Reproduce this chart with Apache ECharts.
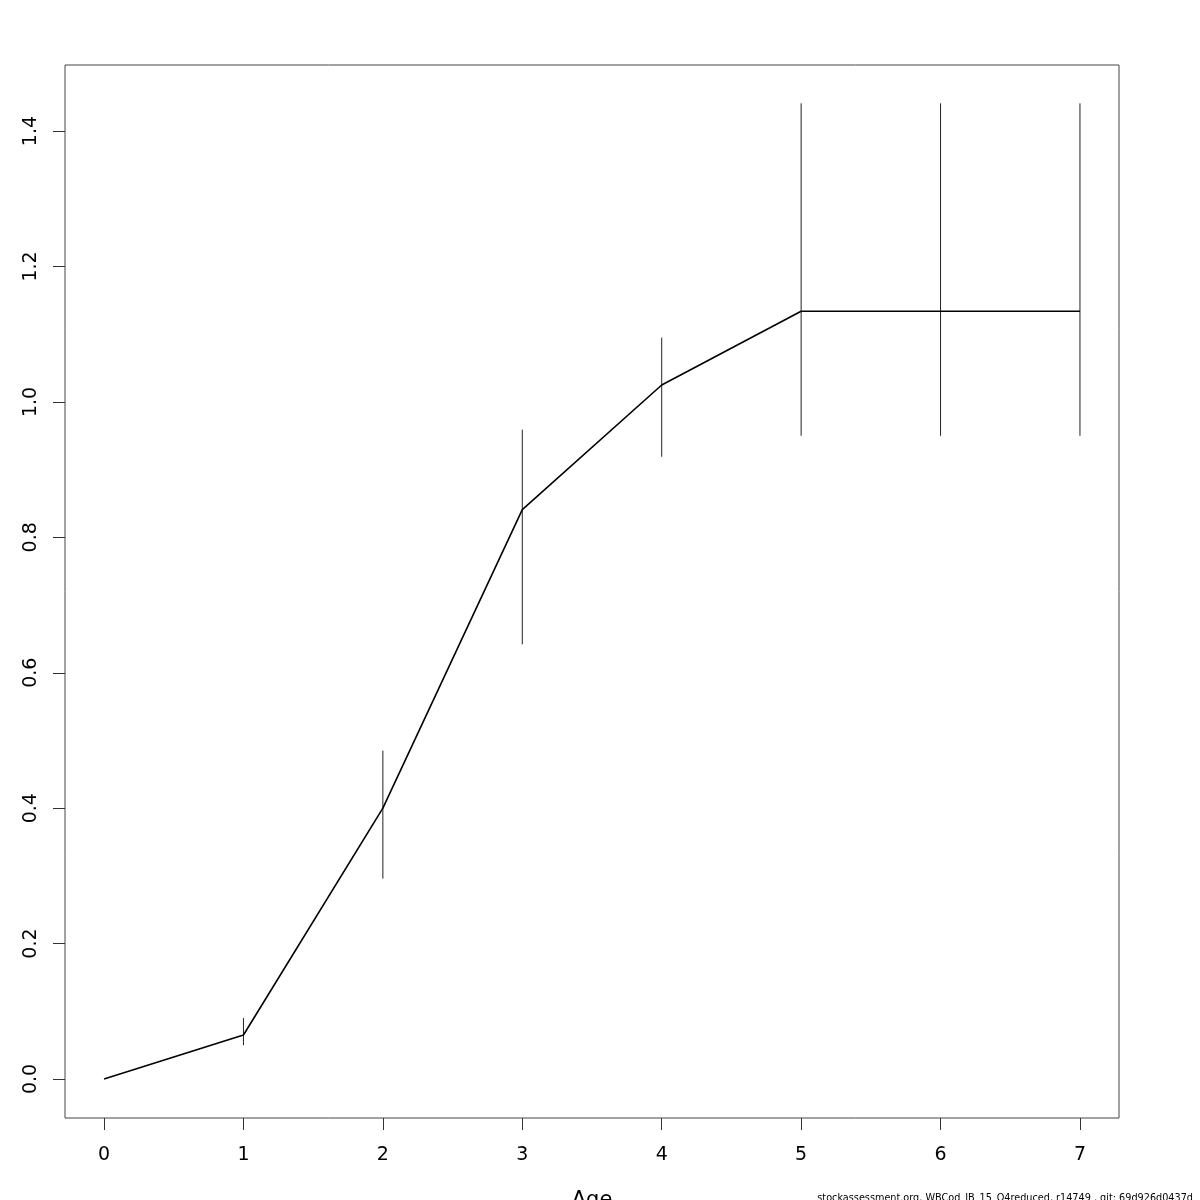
<!DOCTYPE html>
<html>
<head>
<meta charset="utf-8">
<script src="https://cdn.jsdelivr.net/npm/echarts@6/dist/echarts.min.js"></script>
<style>html,body{margin:0;padding:0;background:#fff}#c{width:1200px;height:1200px}</style>
</head>
<body>
<div id="c"></div>
<script>
const ages = [0, 1, 2, 3, 4, 5, 6, 7];
const estimate = [0, 0.065, 0.400, 0.841, 1.025, 1.134, 1.134, 1.134];
const lower = [null, 0.050, 0.296, 0.642, 0.919, 0.950, 0.950, 0.950];
const upper = [null, 0.090, 0.485, 0.959, 1.095, 1.441, 1.441, 1.441];
const xTicks = [0, 1, 2, 3, 4, 5, 6, 7];
const yTicks = [0, 0.2, 0.4, 0.6, 0.8, 1.0, 1.2, 1.4];
const footer = "stockassessment.org, WBCod_IB_15_Q4reduced, r14749 , git: 69d926d0437d";

const lineData = ages.map((a, i) => [a, estimate[i]]);
const barData = ages.map((a, i) => [a, lower[i], upper[i]]).filter(d => d[1] !== null);

const chart = echarts.init(document.getElementById('c'), null, {renderer: 'canvas'});
const font = 'DejaVu Sans';
chart.setOption({
  animation: false,
  backgroundColor: '#fff',
  grid: {left: 65, top: 65, right: 81, bottom: 82, show: true, borderColor: '#444', borderWidth: 1,
         backgroundColor: 'transparent', containLabel: false, outerBoundsMode: 'none'},
  xAxis: {
    type: 'value', min: -0.28, max: 7.28,
    name: 'Age', nameLocation: 'middle', nameGap: 72,
    nameTextStyle: {fontFamily: font, fontSize: 21, color: '#000'},
    axisLine: {show: false, onZero: false},
    splitLine: {show: false},
    axisTick: {show: true, length: 12, lineStyle: {color: '#333'}, customValues: xTicks},
    axisLabel: {fontFamily: font, fontSize: 19, color: '#000', margin: 28, customValues: xTicks, formatter: v => String(v)}
  },
  yAxis: {
    type: 'value', min: -0.0576, max: 1.4976,
    axisLine: {show: false, onZero: false},
    splitLine: {show: false},
    axisTick: {show: true, length: 12, lineStyle: {color: '#333'}, customValues: yTicks},
    axisLabel: {fontFamily: font, fontSize: 19, color: '#000', margin: 24, rotate: 90, customValues: yTicks, formatter: v => v.toFixed(1)}
  },
  graphic: [{
    type: 'text', right: 7, bottom: -3,
    style: {text: footer, fontFamily: font, fontSize: 9.7, fill: '#000'}
  }],
  series: [
    {
      type: 'line', data: lineData, symbol: 'none',
      lineStyle: {color: '#000', width: 1.6}
    },
    {
      type: 'custom', data: barData,
      renderItem: function (params, api) {
        const p1 = api.coord([api.value(0), api.value(1)]);
        const p2 = api.coord([api.value(0), api.value(2)]);
        return {type: 'line', shape: {x1: p1[0], y1: p1[1], x2: p2[0], y2: p2[1]}, style: {stroke: '#222', lineWidth: 1}};
      }
    }
  ]
});
</script>
</body>
</html>
